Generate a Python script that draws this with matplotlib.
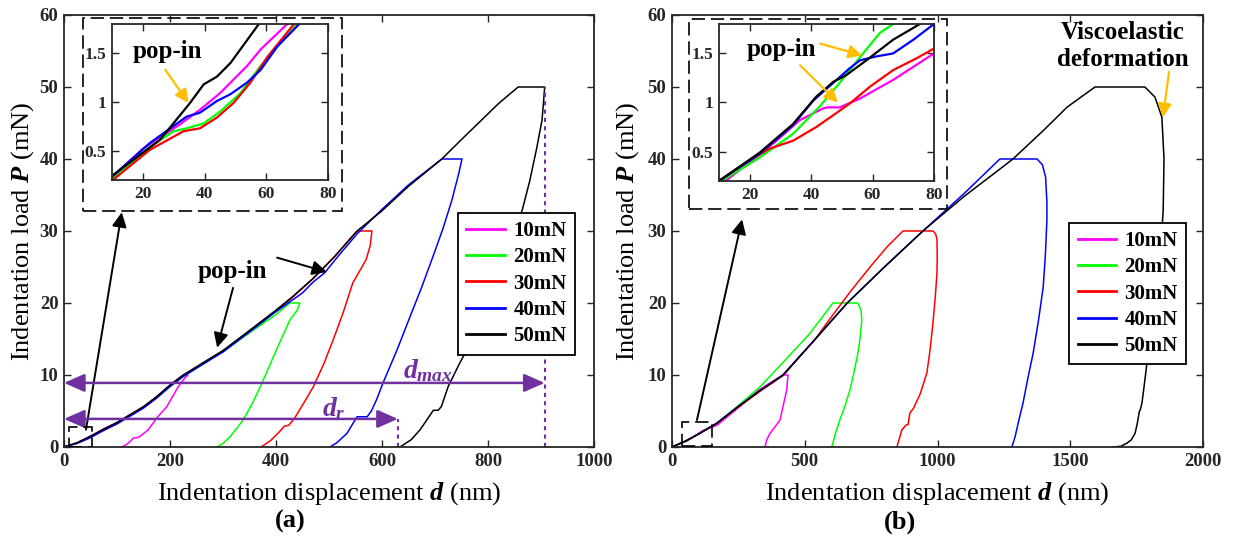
import matplotlib
matplotlib.use('Agg')
import matplotlib.pyplot as plt
from matplotlib.patches import Rectangle

plt.rcParams['font.family'] = 'Liberation Serif'
plt.rcParams['mathtext.fontset'] = 'custom'
plt.rcParams['mathtext.it'] = 'Liberation Serif:italic:bold'
plt.rcParams['mathtext.rm'] = 'Liberation Serif'
plt.rcParams['mathtext.bf'] = 'Liberation Serif:bold'

labels = ['10mN', '20mN', '30mN', '40mN', '50mN']
colors = ['#FF00FF', '#00FF00', '#FF0000', '#0000FF', '#000000']
purple = '#7030A0'
orange = '#FFBF00'

# ---- panel (a): full curves ----
a10_d = [0, 25, 50, 75, 100, 125, 150, 175, 200, 225, 234, 228, 215, 194, 177, 159, 143, 138, 131, 124, 116, 109]
a10_p = [0, 0.6, 1.5, 2.5, 3.4, 4.5, 5.6, 7.0, 8.6, 10.0, 10.0, 9.6, 8.3, 5.6, 4.2, 2.4, 1.45, 1.3, 1.25, 0.7, 0.25, 0]
a20_d = [0, 25, 50, 75, 100, 125, 150, 175, 200, 225, 260, 300, 345, 400, 426, 445, 440, 426, 410, 395, 382, 370, 355, 338, 325, 313, 300, 289]
a20_p = [0, 0.55, 1.4, 2.4, 3.3, 4.4, 5.5, 6.9, 8.4, 9.8, 11.4, 13.2, 15.6, 18.4, 20.0, 20.0, 19.0, 17.6, 15.0, 12.5, 10.3, 8.3, 6.0, 3.75, 2.5, 1.4, 0.5, 0]
a30_d = [0, 25, 50, 75, 100, 125, 150, 175, 200, 225, 260, 300, 345, 400, 430, 470, 510, 553, 581, 578, 570, 545, 527, 508, 490, 470, 450, 435, 424, 416, 405, 390, 372]
a30_p = [0, 0.55, 1.4, 2.4, 3.3, 4.4, 5.5, 6.9, 8.5, 9.9, 11.5, 13.3, 15.8, 18.9, 20.7, 23.4, 26.4, 30.0, 30.0, 28.0, 26.0, 22.8, 18.7, 14.9, 11.5, 8.3, 5.8, 4.0, 3.0, 2.9, 2.0, 0.9, 0]
a40_d = [0, 25, 50, 75, 100, 125, 150, 175, 200, 225, 260, 300, 345, 400, 450, 470, 492, 515, 553, 600, 650, 713, 751, 745, 732, 715, 696, 675, 653, 628, 602, 590, 580, 572, 553, 534, 515, 502]
a40_p = [0, 0.5, 1.3, 2.3, 3.2, 4.3, 5.4, 6.8, 8.4, 9.8, 11.4, 13.2, 15.7, 18.8, 21.4, 22.9, 24.2, 26.3, 29.6, 33.0, 36.4, 40.0, 40.0, 38.0, 34.3, 30.3, 26.4, 22.2, 18.1, 13.4, 8.9, 6.6, 5.0, 4.2, 4.2, 1.9, 0.6, 0]
a50_d = [0, 25, 50, 75, 100, 125, 150, 175, 200, 225, 260, 300, 345, 400, 430, 470, 510, 553, 600, 650, 713, 750, 785, 820, 857, 907, 905, 902, 892, 879, 865, 848, 828, 804, 776, 747, 725, 712, 706, 697, 685, 672, 655, 634]
a50_p = [0, 0.6, 1.5, 2.5, 3.4, 4.5, 5.6, 7.0, 8.6, 10.0, 11.6, 13.4, 15.9, 19.0, 20.8, 23.4, 26.4, 30.0, 32.8, 36.2, 40.0, 42.7, 45.2, 47.7, 50.0, 50.0, 48.0, 45.4, 41.5, 37.0, 33.0, 29.2, 24.8, 20.0, 15.6, 11.7, 8.4, 5.6, 5.1, 5.1, 3.8, 2.4, 1.0, 0]

# ---- panel (a): inset readings ----
ia10_d = [10.3, 20, 32, 38.5, 45, 53.8, 58.2, 66.8]
ia10_p = [0.24, 0.52, 0.77, 0.92, 1.09, 1.37, 1.54, 1.80]
ia20_d = [10.3, 22.3, 29.9, 34.2, 39.7, 45, 51.6, 58.2, 64.7, 70.1]
ia20_p = [0.22, 0.54, 0.70, 0.73, 0.78, 0.90, 1.09, 1.37, 1.61, 1.80]
ia30_d = [10.3, 22.3, 33.2, 38.5, 44, 49.4, 54.9, 60.3, 69]
ia30_p = [0.20, 0.51, 0.70, 0.73, 0.84, 0.99, 1.20, 1.46, 1.80]
ia40_d = [10.3, 22.3, 34.2, 38.5, 44, 48.4, 53.8, 58.2, 63.6, 70.7]
ia40_p = [0.24, 0.58, 0.85, 0.89, 1.01, 1.08, 1.20, 1.33, 1.57, 1.80]
ia50_d = [10.3, 25.5, 35.3, 39.7, 44, 48.4, 57.6]
ia50_p = [0.25, 0.61, 0.99, 1.18, 1.26, 1.40, 1.80]

# ---- panel (b): full curves ----
b10_d = [0, 60, 117, 169, 245, 330, 418, 437, 432, 418, 407, 380, 369, 357, 350]
b10_p = [0, 0.9, 2.3, 3.0, 5.3, 8.0, 10.0, 10.0, 7.9, 5.6, 3.75, 2.4, 1.9, 1.0, 0]
b20_d = [0, 50, 100, 169, 245, 330, 407, 520, 606, 700, 712, 715, 708, 700, 685, 670, 650, 632, 615, 602]
b20_p = [0, 0.8, 1.8, 3.3, 5.6, 8.3, 11.3, 15.8, 20.0, 20.0, 19.0, 17.6, 15.0, 13.0, 10.3, 7.9, 5.5, 3.75, 1.8, 0]
b30_d = [0, 50, 100, 169, 245, 330, 418, 540, 595, 670, 746, 810, 870, 983, 993, 998, 999, 998, 992, 983, 972, 960, 935, 910, 896, 889, 883, 866, 855, 847]
b30_p = [0, 0.8, 1.8, 3.3, 5.4, 7.7, 9.9, 15.0, 17.8, 21.5, 25.0, 27.8, 30.0, 30.0, 29.6, 28.8, 26.5, 24.2, 21.0, 17.3, 13.5, 10.3, 7.4, 5.4, 4.7, 3.1, 3.1, 2.4, 1.0, 0]
b40_d = [0, 50, 100, 169, 245, 330, 418, 540, 660, 800, 945, 1100, 1235, 1375, 1395, 1407, 1412, 1412, 1406, 1398, 1380, 1360, 1340, 1322, 1305, 1292, 1280]
b40_p = [0, 0.8, 1.8, 3.3, 5.5, 7.8, 10.0, 15.0, 20.0, 25.0, 30.0, 35.2, 40.0, 40.0, 39.2, 37.5, 34.0, 31.5, 26.5, 22.2, 17.5, 13.0, 9.5, 6.1, 3.5, 1.4, 0]
b50_d = [0, 50, 100, 169, 245, 330, 418, 540, 660, 800, 945, 1100, 1235, 1284, 1400, 1488, 1593, 1781, 1819, 1845, 1853, 1850, 1842, 1831, 1812, 1793, 1780, 1770, 1764, 1760, 1752, 1744, 1730, 1712, 1690, 1661]
b50_p = [0, 0.8, 1.8, 3.3, 5.5, 7.8, 10.0, 15.0, 20.0, 25.0, 30.0, 34.8, 38.6, 40.0, 44.0, 47.2, 50.0, 50.0, 48.6, 45.8, 40.0, 33.0, 28.0, 23.6, 18.0, 13.0, 9.0, 6.1, 5.2, 4.9, 3.2, 1.9, 1.0, 0.5, 0.1, 0]

# ---- panel (b): inset readings ----
ib10_d = [11.3, 20, 28.7, 36.3, 43.9, 45.5, 49.3, 55.9, 66.7, 80]
ib10_p = [0.18, 0.39, 0.61, 0.82, 0.94, 0.95, 0.95, 1.04, 1.23, 1.50]
ib20_d = [10.8, 23.3, 34.1, 42.8, 49.3, 56.9, 62.4, 66.7]
ib20_p = [0.20, 0.44, 0.68, 0.96, 1.20, 1.50, 1.71, 1.80]
ib30_d = [10, 20, 26.5, 34.1, 41.7, 47.2, 52.6, 59.1, 66.7, 74.3, 80]
ib30_p = [0.20, 0.41, 0.53, 0.61, 0.75, 0.87, 0.99, 1.16, 1.33, 1.45, 1.55]
ib40_d = [10, 23.3, 34.1, 40.7, 47.2, 52.6, 55.9, 61.3, 66.7, 73.3, 80]
ib40_p = [0.20, 0.48, 0.77, 1.02, 1.20, 1.35, 1.43, 1.47, 1.50, 1.64, 1.80]
ib50_d = [10, 23.3, 34.1, 41.7, 47.2, 51.5, 58, 66.7, 75.4]
ib50_p = [0.20, 0.49, 0.78, 1.06, 1.21, 1.28, 1.43, 1.64, 1.80]

a_curves = [(a10_d, a10_p), (a20_d, a20_p), (a30_d, a30_p), (a40_d, a40_p), (a50_d, a50_p)]
ia_curves = [(ia10_d, ia10_p), (ia20_d, ia20_p), (ia30_d, ia30_p), (ia40_d, ia40_p), (ia50_d, ia50_p)]
b_curves = [(b10_d, b10_p), (b20_d, b20_p), (b30_d, b30_p), (b40_d, b40_p), (b50_d, b50_p)]
ib_curves = [(ib10_d, ib10_p), (ib20_d, ib20_p), (ib30_d, ib30_p), (ib40_d, ib40_p), (ib50_d, ib50_p)]

fig = plt.figure(figsize=(12.33, 5.43), dpi=100)
ax1 = fig.add_axes([0.0519, 0.1768, 0.4298, 0.7956])
ax2 = fig.add_axes([0.545, 0.1768, 0.4307, 0.7956])
ins1 = fig.add_axes([0.0908, 0.6685, 0.1752, 0.2873])
ins2 = fig.add_axes([0.5831, 0.6667, 0.1744, 0.2891])


def style(ax, fs):
    ax.tick_params(direction='in', top=True, right=True, length=5, width=1,
                   labelsize=fs, pad=4, colors='#262626')
    for lab in ax.get_xticklabels() + ax.get_yticklabels():
        lab.set_fontweight('bold')
        lab.set_color('#262626')
    for s in ax.spines.values():
        s.set_linewidth(1.3)
        s.set_color('#262626')


for ax, curves, inset, icurves in [(ax1, a_curves, ins1, ia_curves), (ax2, b_curves, ins2, ib_curves)]:
    for (d, p), c, lab in zip(curves, colors, labels):
        ax.plot(d, p, color=c, lw=1.1, label=lab)
    for (d, p), c in zip(icurves, colors):
        inset.plot(d, p, color=c, lw=1.6)
    ax.set_ylim(0, 60)
    ax.set_yticks(range(0, 61, 10))
    ax.set_ylabel('Indentation load $P$ (mN)', fontsize=19)
    ax.yaxis.label.set_va('center')
    ax.set_xlabel('Indentation displacement $d$ (nm)', fontsize=19)
    ax.xaxis.label.set_va('center')
    ax.xaxis.set_label_coords(0.5, -0.107)
    inset.set_xlim(10, 80)
    inset.set_ylim(0.2, 1.8)
    inset.set_xticks([20, 40, 60, 80])
    inset.set_yticks([0.5, 1, 1.5])
    inset.set_yticklabels(['0.5', '1', '1.5'])
    style(inset, 12.5)

ax1.set_xlim(0, 1000)
ax1.set_xticks(range(0, 1001, 200))
ax2.set_xlim(0, 2000)
ax2.set_xticks(range(0, 2001, 500))
style(ax1, 13.5)
style(ax2, 13.5)
ax1.yaxis.set_label_coords(-0.079, 0.5)
ax2.yaxis.set_label_coords(-0.083, 0.5)

for ax, anchor in [(ax1, (0.964, 0.542)), (ax2, (0.968, 0.519))]:
    leg = ax.legend(loc='upper right', bbox_to_anchor=anchor, fancybox=False,
                    framealpha=1, edgecolor='k', prop={'weight': 'bold', 'size': 15},
                    handlelength=1.85, handletextpad=0.4, labelspacing=0.3,
                    borderpad=0.4, borderaxespad=0)
    leg.get_frame().set_linewidth(1.3)
    for ln in leg.get_lines():
        ln.set_linewidth(2)

dash = (0, (8, 3.5))
# zoom boxes and arrows, panel (a)
ax1.add_patch(Rectangle((36, 32.8), 489, 26.8, fill=False, ls=dash, lw=1.2, ec='k', clip_on=False, zorder=5))
ax1.add_patch(Rectangle((10, 0), 43, 2.8, fill=False, ls=dash, lw=1.2, ec='k', zorder=5))
ax1.annotate('', xy=(109, 32.6), xytext=(41.5, 2.4),
             arrowprops=dict(arrowstyle='-|>', color='k', lw=1.4, mutation_scale=22, shrinkA=0, shrinkB=0))
# zoom boxes and arrows, panel (b)
ax2.add_patch(Rectangle((64, 33.0), 972, 26.4, fill=False, ls=dash, lw=1.2, ec='k', clip_on=False, zorder=5))
ax2.add_patch(Rectangle((38, 0.2), 113, 3.3, fill=False, ls=dash, lw=1.2, ec='k', zorder=5))
ax2.annotate('', xy=(264, 31.6), xytext=(94, 3.75),
             arrowprops=dict(arrowstyle='-|>', color='k', lw=1.4, mutation_scale=22, shrinkA=0, shrinkB=0))

# pop-in marks in (a)
ax1.text(318, 24.4, 'pop-in', fontsize=18, fontweight='bold', ha='center', va='center')
ax1.annotate('', xy=(289, 13.8), xytext=(319, 22.1),
             arrowprops=dict(arrowstyle='-|>', color='k', lw=1.4, mutation_scale=22, shrinkA=0, shrinkB=0))
ax1.annotate('', xy=(496, 24.3), xytext=(402, 26.3),
             arrowprops=dict(arrowstyle='-|>', color='k', lw=1.4, mutation_scale=22, shrinkA=0, shrinkB=0))

# d_max and d_r
ax1.annotate('', xy=(0, 8.9), xytext=(907, 8.9),
             arrowprops=dict(arrowstyle='<|-|>,head_length=0.5,head_width=0.22', color=purple,
                             lw=1.8, mutation_scale=25, shrinkA=0, shrinkB=0))
ax1.annotate('', xy=(0, 3.9), xytext=(630, 3.9),
             arrowprops=dict(arrowstyle='<|-|>,head_length=0.5,head_width=0.22', color=purple,
                             lw=1.8, mutation_scale=25, shrinkA=0, shrinkB=0))
ax1.plot([907, 907], [0, 50], color=purple, lw=1.5, ls=(0, (2, 2)))
ax1.plot([630, 630], [0, 3.9], color=purple, lw=1.5, ls=(0, (2, 2)))
ax1.text(640, 9.6, '$d_{max}$', color=purple, fontsize=20, va='baseline')
ax1.text(487, 4.3, '$d_{r}$', color=purple, fontsize=20, va='baseline')

# inset annotations
ins1.text(28, 1.52, 'pop-in', fontsize=18, fontweight='bold', ha='center', va='center')
ins1.annotate('', xy=(34.8, 0.99), xytext=(27.3, 1.33),
              arrowprops=dict(arrowstyle='-|>', color=orange, lw=1.6, mutation_scale=20, shrinkA=0, shrinkB=0))
ins2.text(30.2, 1.54, 'pop-in', fontsize=18, fontweight='bold', ha='center', va='center')
ins2.annotate('', xy=(56.6, 1.48), xytext=(42.9, 1.60),
              arrowprops=dict(arrowstyle='-|>', color=orange, lw=1.6, mutation_scale=20, shrinkA=0, shrinkB=0))
ins2.annotate('', xy=(48.7, 1.0), xytext=(36.4, 1.38),
              arrowprops=dict(arrowstyle='-|>', color=orange, lw=1.6, mutation_scale=20, shrinkA=0, shrinkB=0))

# viscoelastic note in (b)
ax2.text(1699, 55.7, 'Viscoelastic\ndeformation', fontsize=18, fontweight='bold',
         ha='center', va='center', linespacing=1.25)
ax2.annotate('', xy=(1849, 45.8), xytext=(1872, 52.1),
             arrowprops=dict(arrowstyle='-|>', color=orange, lw=1.6, mutation_scale=20, shrinkA=0, shrinkB=0))

fig.text(0.235, 0.039, '(a)', fontsize=19, fontweight='bold', ha='center', va='center')
fig.text(0.730, 0.039, '(b)', fontsize=19, fontweight='bold', ha='center', va='center')

fig.savefig('out.png', dpi=100)
